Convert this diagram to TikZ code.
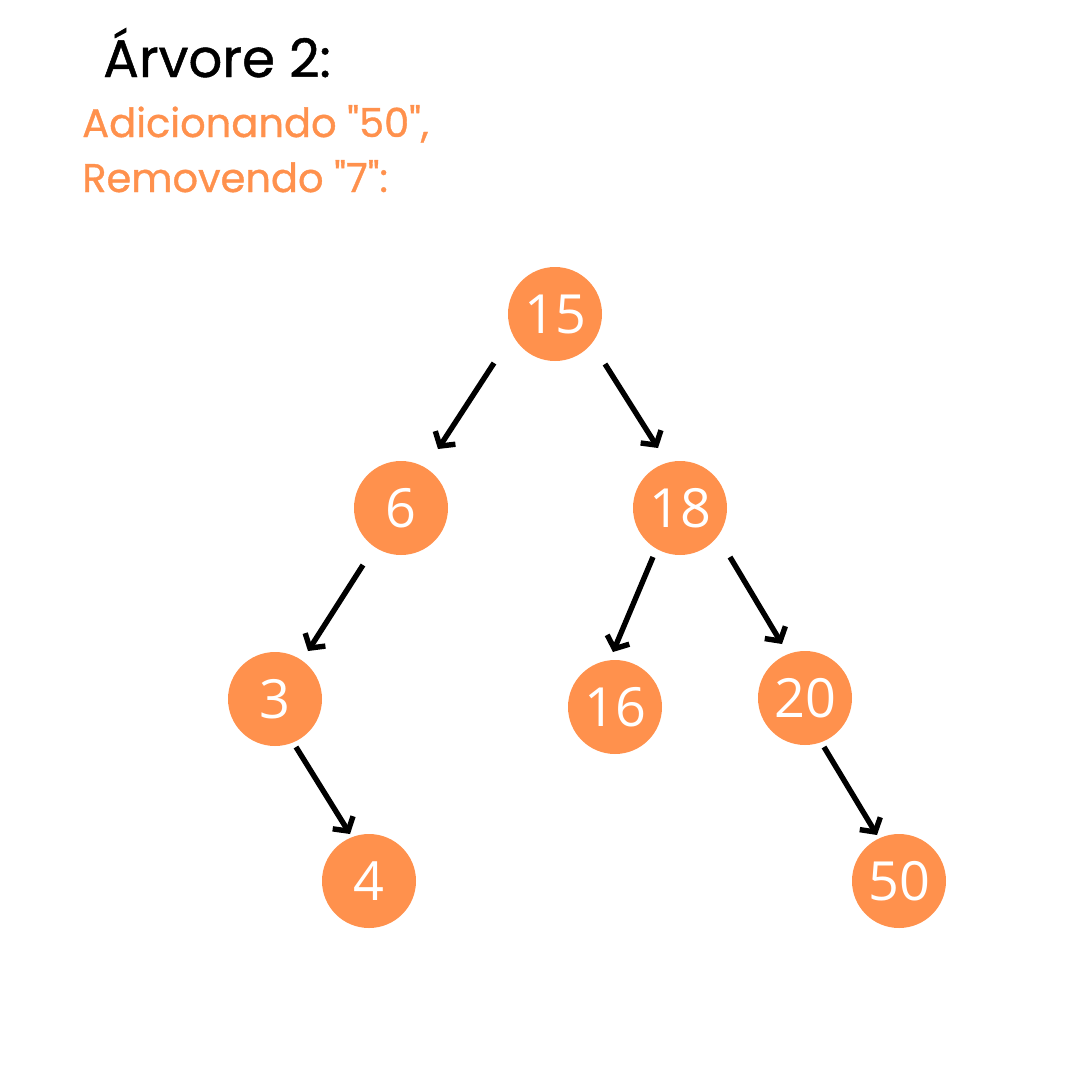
\documentclass[tikz,border=0pt]{standalone}
\usepackage{fontspec}
\setmainfont{Open Sans}
\newfontfamily\titlefont[UprightFeatures={FakeBold=0.9}]{Poppins}
\usetikzlibrary{arrows.meta, positioning}
\definecolor{nodeorange}{RGB}{255, 145, 77}

\begin{document}
\begin{tikzpicture}[x=1pt, y=-1pt,
    treenode/.style={circle, fill=nodeorange, minimum size=94pt, inner sep=0pt,
      text=white, font=\fontsize{54}{54}\selectfont},
    subline/.style={anchor=base west, inner sep=0pt, text=nodeorange,
      font=\titlefont\fontsize{40}{40}\selectfont},
    treearrow/.style={-{Straight Barb[length=10pt, width=24pt]}, line width=5.4pt, black}]
  \useasboundingbox (0,0) rectangle (1080,1080);

  % Title
  \node[anchor=base west, inner sep=0pt, font=\titlefont\fontsize{53}{53}\selectfont] (title) at (103,77) {Árvore 2:};
  \node[subline] (sub1) at (82,137) {Adicionando "50",};
  \node[subline] (sub2) at (82,192) {Removendo "7":};

  % Nodes
  \node[treenode] (n15) at (555,314) {15};
  \node[treenode] (n6) at (401,508) {6};
  \node[treenode] (n18) at (680,508) {18};
  \node[treenode] (n3) at (275,699) {3};
  \node[treenode] (n16) at (615,707) {16};
  \node[treenode] (n20) at (805,698) {20};
  \node[treenode] (n4) at (369,881) {4};
  \node[treenode] (n50) at (899,881) {50};

  % Arrows
  \draw[treearrow] ([shift={(-61,49)}]n15.center) -- ([shift={(37,-59)}]n6.center);
  \draw[treearrow] ([shift={(50,50)}]n15.center) -- ([shift={(-22,-60)}]n18.center);
  \draw[treearrow] ([shift={(-38,57)}]n6.center) -- ([shift={(33,-48)}]n3.center);
  \draw[treearrow] ([shift={(-27,49)}]n18.center) -- ([shift={(-2,-55)}]n16.center);
  \draw[treearrow] ([shift={(50,49)}]n18.center) -- ([shift={(-23,-54)}]n20.center);
  \draw[treearrow] ([shift={(21,48)}]n3.center) -- ([shift={(-19,-47)}]n4.center);
  \draw[treearrow] ([shift={(19,49)}]n20.center) -- ([shift={(-22,-46)}]n50.center);
\end{tikzpicture}
\end{document}
